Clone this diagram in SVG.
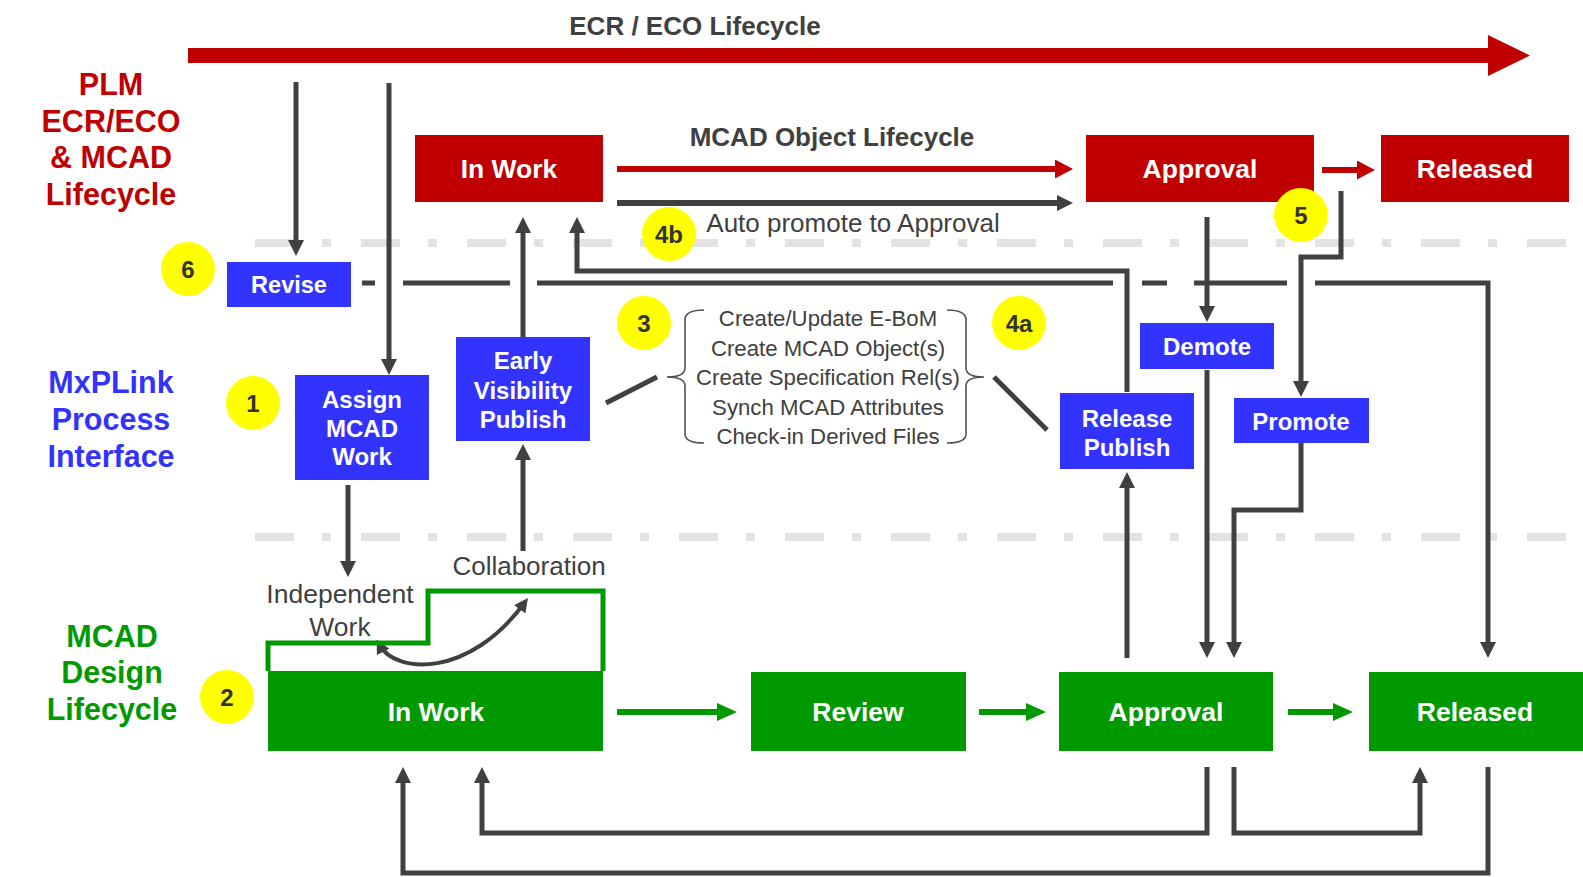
<svg xmlns="http://www.w3.org/2000/svg" width="1583" height="877" viewBox="0 0 1583 877">
<style>
text{font-family:"Liberation Sans",Arial,sans-serif;}
.b{font-weight:bold;}
.wt{fill:#fff;font-weight:bold;text-anchor:middle;}
.red{fill:#c00000;}
.blue{fill:#3333ff;}
.green{fill:#009900;}
.lblr{fill:#c00000;font-weight:bold;font-size:30.5px;text-anchor:middle;}
.lblb{fill:#3333ff;font-weight:bold;font-size:30.5px;text-anchor:middle;}
.lblg{fill:#009900;font-weight:bold;font-size:30.5px;text-anchor:middle;}
.gt{fill:#404040;text-anchor:middle;}
.yc{fill:#ffff00;}
.yt{fill:#333;font-weight:bold;font-size:24px;text-anchor:middle;}
.sep{stroke:#e3e3e3;stroke-width:8;stroke-dasharray:39 28 9 30;fill:none;}
.con{stroke:#404040;stroke-width:5;fill:none;}
.conm{stroke:#404040;stroke-width:5;fill:none;marker-end:url(#ag);}
.gr{stroke:#009900;stroke-width:6;fill:none;marker-end:url(#agr);}
.rd{stroke:#c00000;stroke-width:6;fill:none;marker-end:url(#ard);}
.brace{stroke:#505050;stroke-width:1.6;fill:none;}
</style>
<defs>
<marker id="ag" markerUnits="userSpaceOnUse" viewBox="0 0 16 16" markerWidth="16" markerHeight="16" refX="10" refY="8" orient="auto"><path d="M0,0 L16,8 L0,16 z" fill="#404040"/></marker>
<marker id="agr" markerUnits="userSpaceOnUse" viewBox="0 0 20 18" markerWidth="20" markerHeight="18" refX="14" refY="9" orient="auto"><path d="M0,0 L20,9 L0,18 z" fill="#009900"/></marker>
<marker id="ard" markerUnits="userSpaceOnUse" viewBox="0 0 18 19" markerWidth="18" markerHeight="19" refX="12" refY="9.5" orient="auto"><path d="M0,0 L18,9.5 L0,19 z" fill="#c00000"/></marker>
<marker id="acv" markerUnits="userSpaceOnUse" viewBox="0 0 14 14" markerWidth="14" markerHeight="14" refX="9" refY="7" orient="auto-start-reverse"><path d="M0,0 L14,7 L0,14 z" fill="#404040"/></marker>
</defs>

<g id="separators">
<line class="sep" x1="255" y1="243" x2="1570" y2="243"/>
<line class="sep" x1="255" y1="537" x2="1570" y2="537"/>
</g>

<g id="ecr-lifecycle">
<text class="gt b" x="695" y="35" font-size="26">ECR / ECO Lifecycle</text>
<polygon class="red" points="188,48 1488,48 1488,35 1530,55.5 1488,76 1488,63 188,63"/>
</g>

<g id="lane-plm">
<text class="lblr" x="111" y="95">PLM</text>
<text class="lblr" x="111" y="132">ECR/ECO</text>
<text class="lblr" x="111" y="168">&amp; MCAD</text>
<text class="lblr" x="111" y="205">Lifecycle</text>
</g>
<g id="lane-mxplink">
<text class="lblb" x="111" y="393">MxPLink</text>
<text class="lblb" x="111" y="430">Process</text>
<text class="lblb" x="111" y="467">Interface</text>
</g>
<g id="lane-mcad">
<text class="lblg" x="112" y="647">MCAD</text>
<text class="lblg" x="112" y="683">Design</text>
<text class="lblg" x="112" y="720">Lifecycle</text>
</g>

<g id="connectors">
<path class="conm" d="M296,82 V250"/>
<path class="conm" d="M389,83 V369"/>
<path class="conm" d="M523,337 V223"/>
<path class="conm" d="M1127,392 V271 H577 V223"/>
<path class="con" d="M362,283 H375 M403,283 H510 M537,283 H1113 M1142,283 H1167 M1194,283 H1287"/>
<path class="conm" d="M1315,283 H1488 V652"/>
<path class="conm" d="M1207,217 V316"/>
<path class="conm" d="M1207,370 V652"/>
<path class="conm" d="M1341,191 V257 H1301 V391"/>
<path class="conm" d="M1301,443 V510 H1234 V652"/>
<path class="conm" d="M1127,658 V478"/>
<path class="conm" d="M348,485 V571"/>
<path class="conm" d="M523,551 V450"/>
<path class="conm" d="M1207,767 V833 H482 V773"/>
<path class="conm" d="M1234,767 V833 H1420 V773"/>
<path class="conm" d="M1488,767 V873 H403 V773"/>
<path class="con" d="M606,403 L657,377"/>
<path class="con" d="M994,377 L1047,430"/>
<path class="rd" d="M617,169 H1067"/>
<path class="rd" d="M1322,170 H1369"/>
<path d="M617,203 H1067" stroke="#404040" stroke-width="6" fill="none" marker-end="url(#ag)"/>
<path class="gr" d="M617,712 H731"/>
<path class="gr" d="M979,712 H1040"/>
<path class="gr" d="M1288,712 H1347"/>
<path d="M379,644 C395,675 470,678 525,602" stroke="#404040" stroke-width="4" fill="none" marker-start="url(#acv)" marker-end="url(#acv)"/>
</g>

<g id="plm-inwork">
<rect class="red" x="415" y="135" width="188" height="67"/>
<text class="wt" x="509" y="178" font-size="26.5">In Work</text>
</g>
<g id="plm-approval">
<rect class="red" x="1086" y="135" width="228" height="67"/>
<text class="wt" x="1200" y="178" font-size="26.5">Approval</text>
</g>
<g id="plm-released">
<rect class="red" x="1381" y="135" width="188" height="67"/>
<text class="wt" x="1475" y="178" font-size="26.5">Released</text>
</g>
<g id="mcad-object-lifecycle">
<text class="gt b" x="832" y="146" font-size="26">MCAD Object Lifecycle</text>
</g>
<g id="auto-promote">
<text class="gt" x="853" y="232" font-size="26">Auto promote to Approval</text>
</g>

<g id="revise">
<rect class="blue" x="227" y="262" width="124" height="45"/>
<text class="wt" x="289" y="293" font-size="23.5">Revise</text>
</g>
<g id="assign">
<rect class="blue" x="295" y="375" width="134" height="105"/>
<text class="wt" x="362" y="407.5" font-size="24">Assign</text>
<text class="wt" x="362" y="436.5" font-size="24">MCAD</text>
<text class="wt" x="362" y="465" font-size="24">Work</text>
</g>
<g id="early">
<rect class="blue" x="456" y="337" width="134" height="104"/>
<text class="wt" x="523" y="369" font-size="24">Early</text>
<text class="wt" x="523" y="398.5" font-size="24">Visibility</text>
<text class="wt" x="523" y="427.5" font-size="24">Publish</text>
</g>
<g id="release-publish">
<rect class="blue" x="1060" y="393" width="134" height="76"/>
<text class="wt" x="1127" y="426.5" font-size="24">Release</text>
<text class="wt" x="1127" y="455.5" font-size="24">Publish</text>
</g>
<g id="demote">
<rect class="blue" x="1140" y="323" width="134" height="46"/>
<text class="wt" x="1207" y="354.5" font-size="24">Demote</text>
</g>
<g id="promote">
<rect class="blue" x="1234" y="398" width="135" height="45"/>
<text class="wt" x="1301" y="429.5" font-size="24">Promote</text>
</g>

<g id="actions">
<path class="brace" d="M704,310 Q685,310 685,320 V368 Q685,377 667,377 Q685,377 685,386 V434 Q685,443 704,443"/>
<path class="brace" d="M947,310 Q966,310 966,320 V368 Q966,377 984,377 Q966,377 966,386 V434 Q966,443 947,443"/>
<text class="gt" x="828" y="325.5" font-size="22.2">Create/Update E-BoM</text>
<text class="gt" x="828" y="355.5" font-size="22.2">Create MCAD Object(s)</text>
<text class="gt" x="828" y="384.5" font-size="22.2">Create Specification Rel(s)</text>
<text class="gt" x="828" y="414.5" font-size="22.2">Synch MCAD Attributes</text>
<text class="gt" x="828" y="443.5" font-size="22.2">Check-in Derived Files</text>
</g>

<g id="collab">
<polyline points="268,671 268,643 428,643 428,591 603,591 603,671" fill="none" stroke="#009900" stroke-width="5"/>
<text class="gt" x="340" y="603" font-size="26.5">Independent</text>
<text class="gt" x="340" y="636" font-size="26.5">Work</text>
<text class="gt" x="529" y="575" font-size="26">Collaboration</text>
</g>

<g id="mcad-inwork">
<rect class="green" x="268" y="671" width="335" height="80"/>
<text class="wt" x="436" y="720.5" font-size="26.5">In Work</text>
</g>
<g id="mcad-review">
<rect class="green" x="751" y="672" width="215" height="79"/>
<text class="wt" x="858" y="720.5" font-size="26.5">Review</text>
</g>
<g id="mcad-approval">
<rect class="green" x="1059" y="672" width="214" height="79"/>
<text class="wt" x="1166" y="720.5" font-size="26.5">Approval</text>
</g>
<g id="mcad-released">
<rect class="green" x="1369" y="672" width="214" height="79"/>
<text class="wt" x="1475" y="720.5" font-size="26.5">Released</text>
</g>

<g id="step-1"><circle class="yc" cx="253" cy="403" r="27"/><text class="yt" x="253" y="411.5">1</text></g>
<g id="step-2"><circle class="yc" cx="227" cy="697" r="27"/><text class="yt" x="227" y="705.5">2</text></g>
<g id="step-3"><circle class="yc" cx="644" cy="323" r="27"/><text class="yt" x="644" y="331.5">3</text></g>
<g id="step-4a"><circle class="yc" cx="1019" cy="323" r="27"/><text class="yt" x="1019" y="331.5">4a</text></g>
<g id="step-4b"><circle class="yc" cx="669" cy="234" r="27"/><text class="yt" x="669" y="242.5">4b</text></g>
<g id="step-5"><circle class="yc" cx="1301" cy="215" r="27"/><text class="yt" x="1301" y="223.5">5</text></g>
<g id="step-6"><circle class="yc" cx="188" cy="269" r="27"/><text class="yt" x="188" y="277.5">6</text></g>
</svg>
